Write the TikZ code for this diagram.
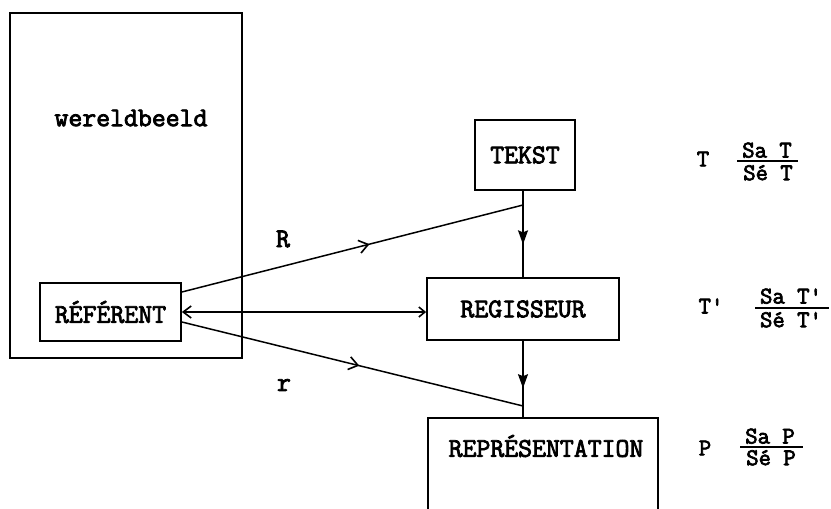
\documentclass[tikz,border=0pt]{standalone}
\usepackage{fontspec}
\setmonofont{Latin Modern Mono}[FakeBold=3]
\usetikzlibrary{arrows.meta,decorations.markings}
\begin{document}
\begin{tikzpicture}[x=1pt,y=-1pt,
  font=\ttfamily\fontsize{27}{30}\selectfont,
  box/.style={draw, line width=1.8pt, inner sep=0pt},
  boxline/.style={line width=1.8pt},
  conn/.style={line width=1.5pt},
  fr/.style={font=\ttfamily\fontsize{24}{26}\selectfont, inner sep=0pt},
  fracline/.style={line width=1.6pt},
  midbarb/.style={postaction={decorate}, decoration={markings,
     mark=at position #1 with {\arrow{Straight Barb[length=9pt,width=13pt,line width=1.6pt]}}}},
  midtri/.style={postaction={decorate}, decoration={markings,
     mark=at position #1 with {\arrow{Stealth[length=14pt,width=10pt,inset=2pt]}}}},
  endbarb/.style={{Straight Barb[length=8pt,width=12pt,line width=1.6pt]}-{Straight Barb[length=6pt,width=10pt,line width=1.6pt]}}
]
\useasboundingbox (0,0) rectangle (831,509);

% world box
\node[box, minimum width=232pt, minimum height=345pt] (world) at (126,185.5) {};
\node (wb) at (131,118) {wereldbeeld};

% main boxes
\node[box, minimum width=141pt, minimum height=58pt] (ref) at (110.5,312) {RÉFÉRENT};
\node[box, minimum width=100pt, minimum height=70pt] (tekst) at (525,155) {TEKST};
\node[box, minimum width=192pt, minimum height=62pt] (reg) at (523,309) {REGISSEUR};
\node[minimum width=230pt, minimum height=91pt, inner sep=0pt] (rep) at (543,463.5) {};
\node (reptext) at (546,446) {REPRÉSENTATION};
\draw[boxline] (rep.south west) |- (rep.north east) -- (rep.south east);

% junctions
\coordinate (j1) at (523,205);
\coordinate (j2) at (523,406);

% connectors
\draw[conn, midtri=0.62] (reg.north |- tekst.south) -- (reg.north);
\draw[conn, midtri=0.615] (reg.south) -- (reg.south |- rep.north);
\draw[conn, midbarb=0.55] ([yshift=20pt]ref.east) -- (j1);
\draw[conn, midbarb=0.52] ([yshift=-10pt]ref.east) -- (j2);
\draw[conn, endbarb] (ref.east) -- (ref.east -| reg.west);

% labels
\node (R) at (283,239) {R};
\node (r) at (284,385) {r};

% formulas
\node[fr] (T1) at (703,159) {T};
\node[fr, anchor=south] (n1) at (767,158) {Sa T};
\node[fr, anchor=north] (d1) at (768,165) {Sé T};
\draw[fracline] (737,161) -- (798,161);

\node[fr] (T2) at (711,306) {T\textquotesingle};
\node[fr, anchor=south] (n2) at (791,304) {Sa T\textquotesingle};
\node[fr, anchor=north] (d2) at (791,312) {Sé T\textquotesingle};
\draw[fracline] (755,308) -- (829,308);

\node[fr] (P) at (705,448) {P};
\node[fr, anchor=south] (n3) at (770,444) {Sa P};
\node[fr, anchor=north] (d3) at (771,450) {Sé P};
\draw[fracline] (740,447) -- (803,447);
\end{tikzpicture}
\end{document}
